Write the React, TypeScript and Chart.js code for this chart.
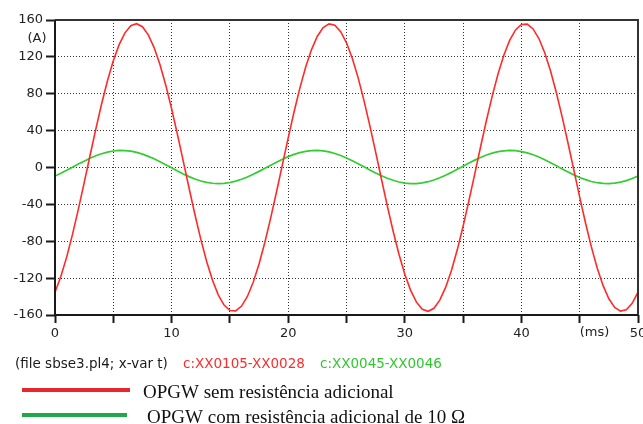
import React, { useEffect, useRef } from "react";
import { Chart, registerables } from "chart.js";

Chart.register(...registerables);

const timeMs = [
  0, 0.5, 1, 1.5, 2, 2.5, 3, 3.5, 4, 4.5, 5, 5.5, 6, 6.5, 7, 7.5, 8, 8.5, 9, 9.5,
  10, 10.5, 11, 11.5, 12, 12.5, 13, 13.5, 14, 14.5, 15, 15.5, 16, 16.5, 17, 17.5, 18, 18.5, 19, 19.5,
  20, 20.5, 21, 21.5, 22, 22.5, 23, 23.5, 24, 24.5, 25, 25.5, 26, 26.5, 27, 27.5, 28, 28.5, 29, 29.5,
  30, 30.5, 31, 31.5, 32, 32.5, 33, 33.5, 34, 34.5, 35, 35.5, 36, 36.5, 37, 37.5, 38, 38.5, 39, 39.5,
  40, 40.5, 41, 41.5, 42, 42.5, 43, 43.5, 44, 44.5, 45, 45.5, 46, 46.5, 47, 47.5, 48, 48.5, 49, 49.5,
  50,
];

const currentNoResistance = [
  -135.3, -118.3, -97.2, -72.6, -45.4, -16.6, 12.7, 41.6, 69.1, 94.1,
  115.7, 133.3, 146.1, 153.8, 156.0, 152.7, 143.9, 130.1, 111.7, 89.3,
  63.7, 35.9, 6.9, -22.5, -51.0, -77.7, -101.7, -122.1, -138.1, -149.2,
  -155.1, -155.5, -150.3, -139.9, -124.5, -104.6, -81.1, -54.7, -26.3, 2.9,
  32.1, 60.2, 86.1, 109.0, 127.9, 142.4, 151.8, 155.8, 154.4, 147.4,
  135.3, 118.3, 97.2, 72.6, 45.4, 16.6, -12.7, -41.6, -69.1, -94.1,
  -115.7, -133.3, -146.1, -153.8, -156.0, -152.7, -143.9, -130.1, -111.7, -89.3,
  -63.7, -35.9, -6.9, 22.5, 51.0, 77.7, 101.7, 122.1, 138.1, 149.2,
  155.1, 155.5, 150.3, 139.9, 124.5, 104.6, 81.1, 54.7, 26.3, -2.9,
  -32.1, -60.2, -86.1, -109.0, -127.9, -142.4, -151.8, -155.8, -154.4, -147.4,
  -135.3,
];

const currentWithResistance = [
  -9.3, -6.3, -3.1, 0.3, 3.7, 6.9, 10.0, 12.7, 14.9, 16.7,
  17.9, 18.5, 18.4, 17.7, 16.4, 14.5, 12.1, 9.4, 6.3, 3.0,
  -0.4, -3.8, -7.0, -9.9, -12.5, -14.6, -16.2, -17.1, -17.5, -17.2,
  -16.3, -14.8, -12.8, -10.3, -7.4, -4.2, -0.9, 2.5, 5.8, 9.0,
  11.8, 14.2, 16.2, 17.5, 18.3, 18.5, 18.0, 16.9, 15.2, 13.0,
  10.3, 7.3, 4.1, 0.7, -2.7, -5.9, -9.0, -11.7, -13.9, -15.7,
  -16.9, -17.5, -17.4, -16.7, -15.4, -13.5, -11.1, -8.4, -5.3, -2.0,
  1.4, 4.8, 8.0, 10.9, 13.5, 15.6, 17.2, 18.1, 18.5, 18.2,
  17.3, 15.8, 13.8, 11.3, 8.4, 5.2, 1.9, -1.5, -4.8, -8.0,
  -10.8, -13.2, -15.2, -16.5, -17.3, -17.5, -17.0, -15.9, -14.2, -12.0,
  -9.3,
];

const yTickValues = [-160, -120, -80, -40, 0, 40, 80, 120, 160];
const xTickValues = [0, 5, 10, 15, 20, 25, 30, 35, 40, 45, 50];
const xLabeledTicks = [0, 10, 20, 30, 40, 50];
const yUnit = "(A)";
const xUnit = "(ms)";
const subtitleParts = [
  { text: "(file sbse3.pl4; x-var t)", color: "#1a1a1a" },
  { text: "c:XX0105-XX0028", color: "#ff2a2a" },
  { text: "c:XX0045-XX0046", color: "#2ec82e" },
];
const legendItems = [
  { text: "OPGW sem resistência adicional", color: "#e8262b" },
  { text: "OPGW com resistência adicional de 10 Ω", color: "#1ea84b" },
];

const TICK_FONT = "13px 'DejaVu Sans'";

const decorPlugin = {
  id: "decor",
  afterDraw(chart: any) {
    const { ctx, chartArea } = chart;
    const { left, right, top, bottom } = chartArea;
    ctx.save();
    ctx.strokeStyle = "#333";
    ctx.lineWidth = 2;
    ctx.beginPath();
    ctx.moveTo(left, top);
    ctx.lineTo(right, top);
    ctx.lineTo(right, bottom);
    ctx.stroke();
    ctx.strokeStyle = "#1a1a1a";
    ctx.beginPath();
    ctx.moveTo(left, top);
    ctx.lineTo(left, bottom);
    ctx.lineTo(right, bottom);
    ctx.stroke();

    ctx.fillStyle = "#222";
    ctx.font = TICK_FONT;
    ctx.textAlign = "center";
    ctx.textBaseline = "middle";
    ctx.fillText(yUnit, 37, 39);
    const xs = chart.scales.x;
    ctx.textAlign = "left";
    ctx.fillText(xUnit, xs.getPixelForValue(45), 333);

    ctx.font = "13.5px 'DejaVu Sans'";
    ctx.textBaseline = "alphabetic";
    const subX = [15, 183, 320];
    subtitleParts.forEach((p, i) => {
      ctx.fillStyle = p.color;
      ctx.fillText(p.text, subX[i], 368);
    });

    const lineY = [390, 415];
    const textX = [143, 147];
    const textY = [398, 423];
    const lineEnd = [130, 127];
    ctx.font = "19px 'Liberation Serif'";
    legendItems.forEach((item, i) => {
      ctx.strokeStyle = item.color;
      ctx.lineWidth = 4;
      ctx.beginPath();
      ctx.moveTo(22, lineY[i]);
      ctx.lineTo(lineEnd[i], lineY[i]);
      ctx.stroke();
      ctx.fillStyle = "#111";
      ctx.fillText(item.text, textX[i], textY[i]);
    });
    ctx.restore();
  },
};

export default function App() {
  const canvasRef = useRef<HTMLCanvasElement | null>(null);

  useEffect(() => {
    document.body.style.margin = "0";
    document.body.style.background = "#fff";
    const canvas = canvasRef.current;
    if (!canvas) return;
    const chart = new Chart(canvas, {
      type: "line",
      data: {
        datasets: [
          {
            label: "c:XX0105-XX0028",
            data: timeMs.map((t, i) => ({ x: t, y: currentNoResistance[i] })),
            borderColor: "#ff2a2a",
            borderWidth: 1.6,
            pointRadius: 0,
            tension: 0,
          },
          {
            label: "c:XX0045-XX0046",
            data: timeMs.map((t, i) => ({ x: t, y: currentWithResistance[i] })),
            borderColor: "#33cc33",
            borderWidth: 1.7,
            pointRadius: 0,
            tension: 0,
          },
        ],
      },
      options: {
        responsive: false,
        animation: false,
        layout: { padding: { top: 20, right: 5, left: 0, bottom: 0 } },
        plugins: { legend: { display: false }, tooltip: { enabled: false } },
        scales: {
          x: {
            type: "linear",
            min: 0,
            max: 50,
            afterFit(scale: any) {
              scale.height = 109;
              scale.paddingLeft = 0;
              scale.paddingRight = 0;
            },
            afterBuildTicks(scale: any) {
              scale.ticks = xTickValues.map((v) => ({ value: v }));
            },
            ticks: {
              autoSkip: false,
              maxRotation: 0,
              padding: 3,
              color: "#222",
              font: { family: "DejaVu Sans", size: 13 },
              callback: (v: any) => (xLabeledTicks.includes(Number(v)) ? String(v) : ""),
            },
            grid: {
              color: "#333",
              lineWidth: 1,
              tickColor: "#1a1a1a",
              tickWidth: 2,
              tickLength: 8,
            },
            border: { display: false, dash: [1, 2] },
          },
          y: {
            type: "linear",
            min: -160,
            max: 160,
            afterFit(scale: any) {
              scale.width = 55;
              scale.paddingTop = 0;
              scale.paddingBottom = 0;
            },
            afterBuildTicks(scale: any) {
              scale.ticks = yTickValues.map((v) => ({ value: v }));
            },
            ticks: {
              padding: 3,
              color: "#222",
              font: { family: "DejaVu Sans", size: 13 },
            },
            grid: {
              color: "#333",
              lineWidth: 1,
              tickColor: "#1a1a1a",
              tickWidth: 2,
              tickLength: 9,
            },
            border: { display: false, dash: [1, 2] },
          },
        },
      },
      plugins: [decorPlugin],
    } as any);
    return () => chart.destroy();
  }, []);

  return (
    <div style={{ position: "absolute", left: 0, top: 0, width: 643, height: 424, background: "#fff" }}>
      <canvas ref={canvasRef} width={643} height={424} style={{ display: "block" }} />
    </div>
  );
}
